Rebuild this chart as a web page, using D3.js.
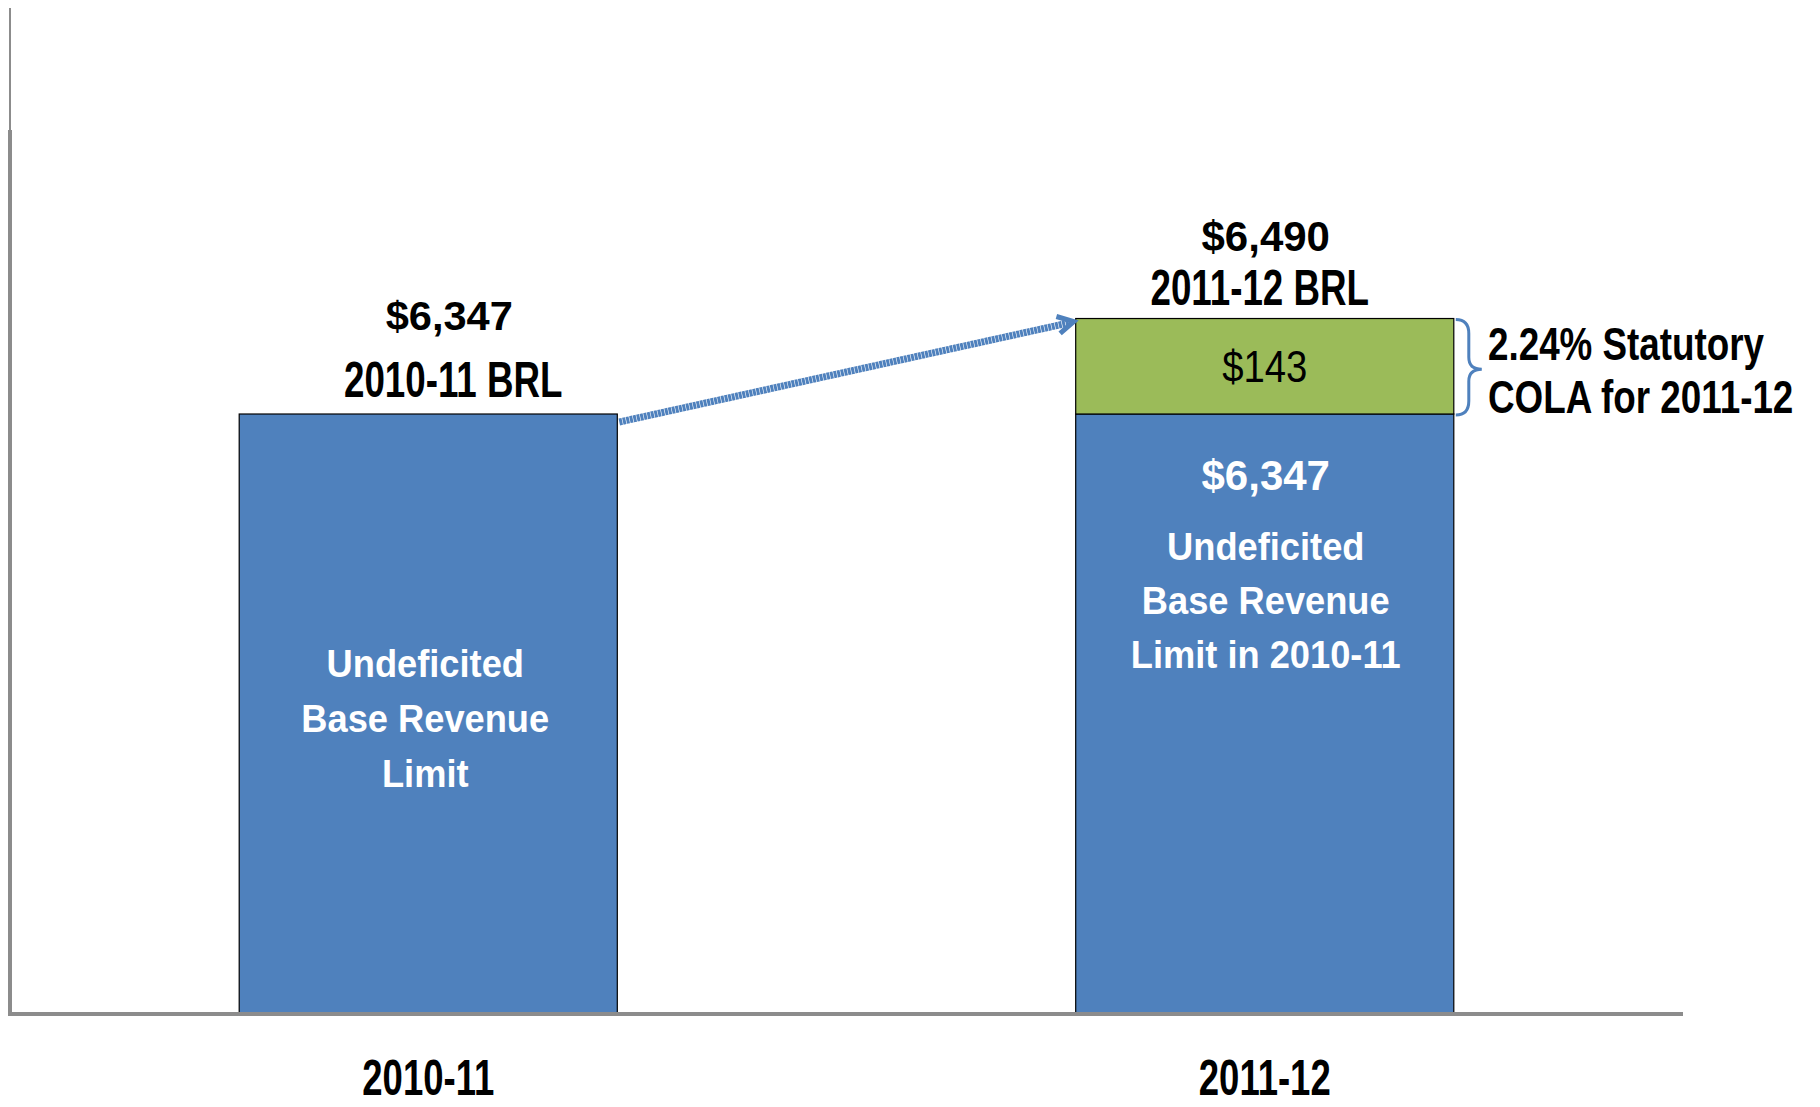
<!DOCTYPE html>
<html>
<head>
<meta charset="utf-8">
<script src="https://cdn.jsdelivr.net/npm/d3@7"></script>
<style>
  body { margin: 0; background: #fff; }
  svg { display: block; font-family: "Liberation Sans", Arial, sans-serif; }
</style>
</head>
<body>
<svg id="chart" width="1820" height="1107"></svg>
<script>
// data
const categories = ["2010-11", "2011-12"];
const baseValues = [6347, 6347];
const colaValues = [0, 143];
const totalLabels = ["$6,347", "$6,490"];
const brlLabels = ["2010-11 BRL", "2011-12 BRL"];
const baseText = [
  ["Undeficited", "Base Revenue", "Limit"],
  ["$6,347", "Undeficited", "Base Revenue", "Limit in 2010-11"]
];
const colaNote = ["2.24% Statutory", "COLA for 2011-12"];
const yDomain = [5450, 6955]; // truncated axis, as drawn in the original

const blue = "#4f81bd";
const green = "#9bbb59";

const svg = d3.select("#chart");

const x = d3.scaleBand()
  .domain(categories)
  .range([10, 1683])
  .paddingInner(0.548)
  .paddingOuter(0.274);

const y = d3.scaleLinear().domain(yDomain).range([1013, 8]);

// draws text squeezed horizontally like the condensed fonts in the original
function label(text, cx, baseline, size, opts = {}) {
  svg.append("text")
    .attr("transform", `translate(${cx},${baseline}) scale(${opts.sx || 1},1)`)
    .attr("text-anchor", "middle")
    .attr("font-size", size)
    .attr("font-weight", opts.weight || "bold")
    .attr("fill", opts.color || "#000")
    .text(text);
}

// base bars
svg.selectAll("rect.base")
  .data(categories)
  .enter()
  .append("rect")
  .attr("class", "base")
  .attr("x", (d) => x(d))
  .attr("width", x.bandwidth())
  .attr("y", (d, i) => y(baseValues[i]))
  .attr("height", (d, i) => y(yDomain[0]) - y(baseValues[i]))
  .attr("fill", blue)
  .attr("stroke", "#000")
  .attr("stroke-width", 1.2);

// COLA segment
svg.selectAll("rect.cola")
  .data(categories.filter((d, i) => colaValues[i] > 0))
  .enter()
  .append("rect")
  .attr("class", "cola")
  .attr("x", (d) => x(d))
  .attr("width", x.bandwidth())
  .attr("y", (d) => {
    const i = categories.indexOf(d);
    return y(baseValues[i] + colaValues[i]);
  })
  .attr("height", (d) => {
    const i = categories.indexOf(d);
    return y(baseValues[i]) - y(baseValues[i] + colaValues[i]);
  })
  .attr("fill", green)
  .attr("stroke", "#000")
  .attr("stroke-width", 1.2);

// axes (plain lines, no ticks)
svg.append("line")
  .attr("x1", 10).attr("x2", 10)
  .attr("y1", y(yDomain[1])).attr("y2", 130)
  .attr("stroke", "#8c8c8c").attr("stroke-width", 2);
svg.append("line")
  .attr("x1", 10).attr("x2", 10)
  .attr("y1", 130).attr("y2", 1015)
  .attr("stroke", "#8c8c8c").attr("stroke-width", 4);
svg.append("line")
  .attr("x1", 8).attr("x2", 1683)
  .attr("y1", 1014).attr("y2", 1014)
  .attr("stroke", "#8c8c8c").attr("stroke-width", 4);

// category labels
categories.forEach((c, i) => {
  label(c, x(c) + x.bandwidth() / 2, 1095, 50, { sx: 0.73 });
});

// totals above bars
const c0 = x(categories[0]) + x.bandwidth() / 2;
const c1 = x(categories[1]) + x.bandwidth() / 2;
const top0 = y(baseValues[0] + colaValues[0]);
const top1 = y(baseValues[1] + colaValues[1]);

label(totalLabels[0], c0 + 21, top0 - 84, 40, { sx: 1.04 });
label(brlLabels[0], c0 + 25, top0 - 17, 49, { sx: 0.75 });
label(totalLabels[1], c1 + 1, top1 - 68, 42, { sx: 1.0 });
label(brlLabels[1], c1 - 5, top1 - 14, 49, { sx: 0.75 });

// $143 inside the green segment
label("$" + colaValues[1], c1, (y(baseValues[1]) + top1) / 2 + 16, 44, { weight: "normal", sx: 0.87 });

// white text inside bars
baseText[0].forEach((t, j) => {
  label(t, c0 - 3, 677 + j * 55, 39, { color: "#fff", sx: 0.93 });
});
label(baseText[1][0], c1 + 1, 490, 42, { color: "#fff" });
baseText[1].slice(1).forEach((t, j) => {
  label(t, c1 + 1, 560 + j * 54, 39, { color: "#fff", sx: 0.93 });
});

// arrow from 2010-11 bar top to 2011-12 bar top
const ax0 = x(categories[0]) + x.bandwidth() + 2;
const ay0 = y(baseValues[0]) + 8;
const ax1 = x(categories[1]) - 2;
const ay1 = top1 + 3;
svg.append("line")
  .attr("x1", ax0).attr("y1", ay0)
  .attr("x2", ax1 - 3).attr("y2", ay1 + 1)
  .attr("stroke", blue).attr("stroke-width", 7)
  .attr("stroke-dasharray", "3,0.6");
const ang = Math.atan2(ay1 - ay0, ax1 - ax0);
const hl = 18;
svg.append("path")
  .attr("d", `M${ax1 - hl * Math.cos(ang - 0.5)},${ay1 - hl * Math.sin(ang - 0.5)}
    L${ax1},${ay1} L${ax1 - hl * Math.cos(ang + 0.5)},${ay1 - hl * Math.sin(ang + 0.5)}`)
  .attr("fill", "none")
  .attr("stroke", blue)
  .attr("stroke-width", 5)
  .attr("stroke-linejoin", "miter");

// brace next to the COLA segment
const bx = x(categories[1]) + x.bandwidth() + 2;
const bTop = top1 + 1;
const bBot = y(baseValues[1]) + 1;
const bMid = (bTop + bBot) / 2 + 2;
svg.append("path")
  .attr("d", `M${bx},${bTop} Q${bx + 13},${bTop} ${bx + 13},${bTop + 14}
    L${bx + 13},${bMid - 12} Q${bx + 13},${bMid} ${bx + 26},${bMid}
    Q${bx + 13},${bMid} ${bx + 13},${bMid + 12}
    L${bx + 13},${bBot - 14} Q${bx + 13},${bBot} ${bx},${bBot}`)
  .attr("fill", "none")
  .attr("stroke", blue)
  .attr("stroke-width", 3);

// COLA note
colaNote.forEach((t, j) => {
  svg.append("text")
    .attr("transform", `translate(1488,${360 + j * 53}) scale(0.8,1)`)
    .attr("font-size", 46)
    .attr("font-weight", "bold")
    .attr("fill", "#000")
    .text(t);
});
</script>
</body>
</html>
